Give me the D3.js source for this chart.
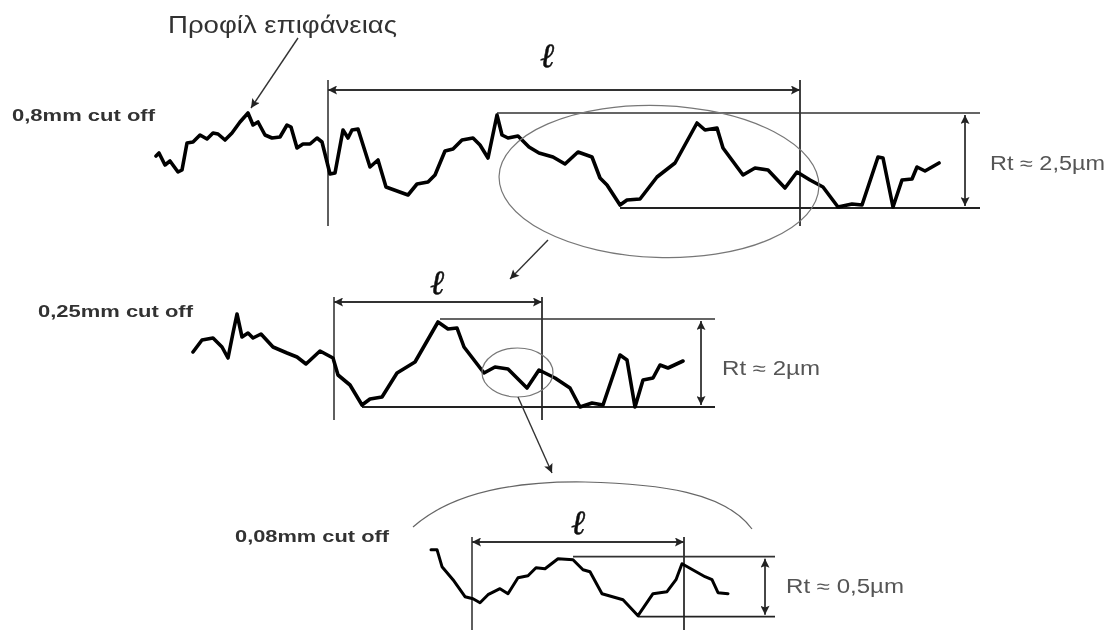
<!DOCTYPE html>
<html>
<head>
<meta charset="utf-8">
<script src="https://d3js.org/d3.v7.min.js"></script>
<style>
  html, body { margin: 0; background: #fff; }
  text { font-family: "Liberation Sans", Arial, sans-serif; }
</style>
</head>
<body>
<div id="viz"></div>
<script>
// profiles: distance from the start of l, height above the lowest valley
var topDist = [-172,-169,-163,-158,-150,-146,-141,-135,-128,-121,-115,-110,-103,-96,-88,-80,-75,-70,-63,-56,-48,-41,-37,-31,-25,-18,-11,-6,2,7,15,20,24,30,42,50,58,69,80,89,100,107,117,125,134,145,152,160,169,174,180,190,201,211,225,237,250,264,272,279,292,299,312,329,347,369,377,389,395,415,427,440,457,469,482,495,510,524,534,550,555,565,574,584,589,597,611];
var topHeight = [52,55,43,47,36,38,65,66,73,69,75,74,68,75,86,95,83,86,73,70,71,83,81,60,64,64,70,66,34,35,78,70,78,79,41,48,21,17,13,24,26,33,57,59,68,70,63,50,93,73,70,72,61,55,51,44,56,51,30,23,3,8,9,31,45,85,78,80,60,33,40,38,20,36,28,21,1,4,3,51,50,1,28,29,41,37,45];

var midDist = [-141,-132,-121,-112,-106,-101,-97,-92,-86,-81,-73,-61,-47,-37,-28,-14,-1,4,16,28,36,48,63,81,104,114,123,130,150,161,174,193,205,221,236,246,258,269,286,293,301,309,319,326,334,349];
var midHeight = [55,67,69,60,49,74,93,70,74,69,73,60,54,50,43,56,49,32,22,2,8,10,34,45,85,78,79,60,34,40,38,19,37,29,19,0,4,2,52,47,0,27,29,42,39,46];

var lowDist = [-41,-35,-30,-19,-7,1,8,16,28,36,46,56,64,73,86,101,111,118,130,151,166,181,195,204,210,233,240,246,256];
var lowHeight = [67,67,50,37,20,18,14,22,28,23,39,41,49,48,58,57,47,45,23,17,1,23,25,37,53,40,37,24,23];

var rtLabels = ["Rt \u2248 2,5\u00b5m", "Rt \u2248 2\u00b5m", "Rt \u2248 0,5\u00b5m"];
var cutLabels = ["0,8mm cut off", "0,25mm cut off", "0,08mm cut off"];

var width = 1113, height = 630;

var svg = d3.select("#viz")
    .append("svg")
    .attr("width", width)
    .attr("height", height)
    .attr("viewBox", `0 0 ${width} ${height}`)
    .style("display", "block");

var defs = svg.append("defs");
defs.append("filter").attr("id", "scan")
    .append("feGaussianBlur").attr("stdDeviation", 0.7);

// arrow head
defs.append("marker")
  .attr("id", "head")
  .attr("viewBox", "0 0 10 10")
  .attr("refX", 10)
  .attr("refY", 5)
  .attr("markerUnits", "userSpaceOnUse")
  .attr("markerWidth", 15)
  .attr("markerHeight", 9)
  .attr("orient", "auto-start-reverse")
  .append("path")
  .attr("d", "M0,0L10,5L0,10L2,5Z")
  .attr("fill", "#222");

var page = svg.append("g").attr("filter", "url(#scan)");

function seg(x1, y1, x2, y2, color, w) {
  return page.append("line")
    .attr("x1", x1).attr("y1", y1)
    .attr("x2", x2).attr("y2", y2)
    .attr("stroke", color)
    .attr("stroke-width", w);
}

function arrow(x1, y1, x2, y2, both, w) {
  var l = seg(x1, y1, x2, y2, "#333", w || 1.8).attr("marker-end", "url(#head)");
  if (both) l.attr("marker-start", "url(#head)");
  return l;
}

// the scan is stretched sideways, so the labels are fitted to the width they have there
function label(str, xPos, yPos, size, len, color, bold) {
  return page.append("text")
    .attr("x", xPos)
    .attr("y", yPos)
    .attr("font-size", size)
    .attr("font-weight", bold ? "bold" : "normal")
    .attr("fill", color)
    .attr("textLength", len)
    .attr("lengthAdjust", "spacingAndGlyphs")
    .text(str);
}

function drawPanel(p) {
  var x = d3.scaleLinear().domain([0, p.span]).range([p.x0, p.x1]);
  var y = d3.scaleLinear().domain([0, p.rt]).range([p.y0, p.y1]);

  // sampling length
  seg(x(0), p.top, x(0), p.bottom, "#444", 1.7);
  seg(x(p.span), p.top, x(p.span), p.bottom, "#222", 1.7);
  arrow(x(0), p.arrowY, x(p.span), p.arrowY, true);

  // peak and valley levels
  seg(x(p.peakAt), y(p.rt), p.levelEnd, y(p.rt), "#333", 1.7);
  seg(x(p.valleyAt), y(0), p.levelEnd, y(0), "#222", 1.8);
  arrow(p.rtX, y(p.rt) + 2, p.rtX, y(0) - 2, true);

  var line = d3.line()
    .x(function (d) { return x(d[0]); })
    .y(function (d) { return y(d[1]); });

  page.append("path")
    .datum(d3.zip(p.dist, p.height))
    .attr("d", line)
    .attr("fill", "none")
    .attr("stroke", "#000")
    .attr("stroke-width", p.weight)
    .attr("stroke-linejoin", "round")
    .attr("stroke-linecap", "round");

  page.append("text")
    .attr("x", (x(0) + x(p.span)) / 2 + p.ellDx)
    .attr("y", p.ellY)
    .attr("text-anchor", "middle")
    .attr("font-size", 34)
    .attr("font-style", "italic")
    .style("font-family", "'DejaVu Serif', serif")
    .attr("fill", "#111")
    .attr("stroke", "#111")
    .attr("stroke-width", 0.5)
    .text("\u2113");

  label(p.rtLabel, p.rtTextX, p.rtTextY, 19.5, p.rtLen, "#555", false);
  label(p.cutLabel, p.cutX, p.cutY, 16.5, p.cutLen, "#333", true);
}

var panels = [
  { dist: topDist, height: topHeight, span: 472, rt: 95, x0: 328, x1: 800, y0: 208, y1: 113,
    top: 80, bottom: 226, arrowY: 90, peakAt: 169, valleyAt: 292, levelEnd: 980, rtX: 965, weight: 3.6,
    ellDx: -17, ellY: 67, rtLabel: rtLabels[0], rtTextX: 990, rtTextY: 170, rtLen: 115,
    cutLabel: cutLabels[0], cutX: 12, cutY: 121, cutLen: 143 },
  { dist: midDist, height: midHeight, span: 208, rt: 88, x0: 334, x1: 542, y0: 407, y1: 319,
    top: 297, bottom: 420, arrowY: 302, peakAt: 106, valleyAt: 28, levelEnd: 715, rtX: 701, weight: 3.6,
    ellDx: -1, ellY: 294, rtLabel: rtLabels[1], rtTextX: 722, rtTextY: 375, rtLen: 98,
    cutLabel: cutLabels[1], cutX: 38, cutY: 317, cutLen: 155 },
  { dist: lowDist, height: lowHeight, span: 212, rt: 60, x0: 472, x1: 684, y0: 616.7, y1: 556.7,
    top: 537, bottom: 630, arrowY: 542, peakAt: 101, valleyAt: 166, levelEnd: 775, rtX: 765, weight: 3,
    ellDx: 0, ellY: 534, rtLabel: rtLabels[2], rtTextX: 786, rtTextY: 593, rtLen: 118,
    cutLabel: cutLabels[2], cutX: 235, cutY: 542, cutLen: 154 }
];
panels.forEach(drawPanel);

// zoom ellipses and the arrows between panels
function ellipse(cx, cy, rx, ry, rot) {
  page.append("ellipse")
    .attr("cx", cx).attr("cy", cy)
    .attr("rx", rx).attr("ry", ry)
    .attr("transform", `rotate(${rot} ${cx} ${cy})`)
    .attr("fill", "none")
    .attr("stroke", "#777")
    .attr("stroke-width", 1.2);
}
ellipse(659, 181.5, 160, 76, 2);
ellipse(517.5, 372.5, 35.5, 24.5, 0);

arrow(548, 240, 510, 279, false, 1.4);
arrow(518, 397, 552, 473, false, 1.4);
arrow(298, 38, 251, 108, false, 1.4);

page.append("path")
  .attr("d", "M413,527C455,490,520,481,585,482C660,484,725,492,752,529")
  .attr("fill", "none")
  .attr("stroke", "#666")
  .attr("stroke-width", 1.2);

label("\u03a0\u03c1\u03bf\u03c6\u03af\u03bb \u03b5\u03c0\u03b9\u03c6\u03ac\u03bd\u03b5\u03b9\u03b1\u03c2", 168, 33, 23, 229, "#333", false);
</script>
</body>
</html>
